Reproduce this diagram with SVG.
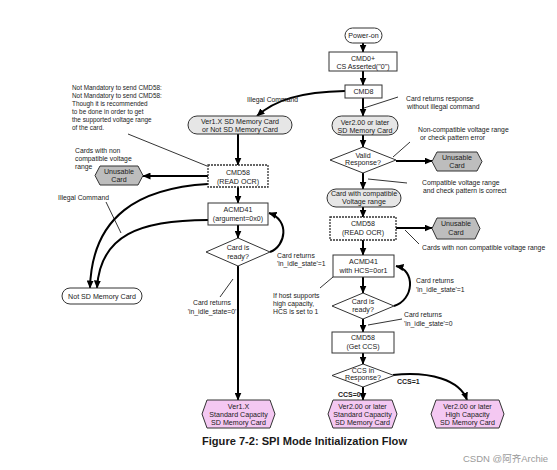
<svg xmlns="http://www.w3.org/2000/svg" width="557" height="470" viewBox="0 0 557 470">
<defs>
<marker id="ah" markerWidth="8" markerHeight="7" refX="7.5" refY="3.5" orient="auto" markerUnits="userSpaceOnUse"><path d="M0,0 L8,3.5 L0,7 z" fill="#000"/></marker>
<style>
text{font-family:"Liberation Sans",Arial,sans-serif;fill:#1a1a1a}
.n{font-size:7.1px;text-anchor:middle}
.a{font-size:6.8px}
.s{font-size:6.4px}
.box{fill:#fff;stroke:#333;stroke-width:1}
.dash{fill:#fff;stroke:#333;stroke-width:1.3;stroke-dasharray:2 1}
.pill{fill:#e6e6e6;stroke:#333;stroke-width:1}
.pillw{fill:#fff;stroke:#333;stroke-width:1}
.gray{fill:#bdbdbd;stroke:#333;stroke-width:1}
.pink{fill:#f4c8f2;stroke:#333;stroke-width:1}
.flow{fill:none;stroke:#000;stroke-width:2;marker-end:url(#ah)}
.lead{fill:none;stroke:#000;stroke-width:0.8}
</style>
</defs>
<rect width="557" height="470" fill="#fff"/>

<g id="connectors">
<path class="flow" d="M363,43 V52"/>
<path class="flow" d="M363,71 V85"/>
<path class="flow" d="M363,98 V116"/>
<path class="flow" d="M363,135 V147"/>
<path class="flow" d="M363,173 V189"/>
<path class="flow" d="M363,207 V217"/>
<path class="flow" d="M363,240 V255"/>
<path class="flow" d="M363,277 V293"/>
<path class="flow" d="M363,319 V332"/>
<path class="flow" d="M363,353 V364"/>
<path class="flow" d="M363,387 V400"/>
<path class="flow" d="M396,161 H432"/>
<path class="flow" d="M396,228 H432"/>
<path class="flow" d="M394,306 C414,300 416,270 396,266"/>
<path class="flow" d="M393,375 C430,371 460,380 467,400"/>
<path class="flow" d="M345,91 C300,92 275,100 257,116"/>
<path class="flow" d="M238,134 V165"/>
<path class="flow" d="M238,187 V203"/>
<path class="flow" d="M238,225 V238"/>
<path class="flow" d="M238,266 V400"/>
<path class="flow" d="M208,176 H143"/>
<path class="flow" d="M270,252 C286,246 290,220 269,213"/>
<path class="flow" d="M208,184 C140,188 92,215 90,288"/>
<path class="flow" d="M208,220 C140,220 100,235 97,288"/>
<path class="lead" d="M398,97 L364,108"/>
<path class="lead" d="M410,142 L393,157"/>
<path class="lead" d="M407,183 L368,179"/>
<path class="lead" d="M419,244 L405,230"/>
<path class="lead" d="M320,288 L333,277"/>
<path class="lead" d="M402,319 L368,325"/>
<path class="lead" d="M128,134 L207,166"/>
<path class="lead" d="M106,202 L121,233"/>
<path class="lead" d="M233,279 L220,297"/>
</g>

<g id="power-on"><rect class="pillw" x="345" y="28" width="37" height="15" rx="7.5"/><text class="n" x="363.5" y="37.5">Power-on</text></g>
<g id="cmd0"><rect class="box" x="329" y="52" width="68" height="19"/><text class="n" x="363" y="60.5">CMD0+</text><text class="n" x="363" y="68.5">CS Asserted("0")</text></g>
<g id="cmd8"><rect class="box" x="345" y="85" width="37" height="13"/><text class="n" x="363.5" y="94">CMD8</text></g>
<g id="ver1x"><rect class="pill" x="188" y="116" width="104" height="18" rx="9"/><text class="n" x="240" y="124">Ver1.X SD Memory Card</text><text class="n" x="240" y="131.5">or Not SD Memory Card</text></g>
<g id="ver2"><rect class="pill" x="332" y="116" width="66" height="19" rx="9.5"/><text class="n" x="365" y="124.5">Ver2.00 or later</text><text class="n" x="365" y="132.5">SD Memory Card</text></g>
<g id="valid"><polygon class="box" points="363,147 396,160 363,173 330,160"/><text class="n" x="363" y="157.5">Valid</text><text class="n" x="363" y="165">Response?</text></g>
<g id="unusable1"><polygon class="gray" points="437,152 477,152 482,161.5 477,171 437,171 432,161.5"/><text class="n" x="457" y="159.5">Unusable</text><text class="n" x="457" y="168">Card</text></g>
<g id="compatible"><rect class="pill" x="327" y="189" width="74" height="18" rx="9"/><text class="n" x="364" y="196">Card with compatible</text><text class="n" x="364" y="204">Voltage range</text></g>
<g id="cmd58r"><rect class="dash" x="330" y="217" width="66" height="23"/><text class="n" x="363" y="225.5">CMD58</text><text class="n" x="363" y="235">(READ OCR)</text></g>
<g id="unusable2"><polygon class="gray" points="437,218 475,218 480,228.5 475,239 437,239 432,228.5"/><text class="n" x="456" y="226">Unusable</text><text class="n" x="456" y="235">Card</text></g>
<g id="acmd41r"><rect class="box" x="333" y="255" width="61" height="22"/><text class="n" x="363.5" y="263.5">ACMD41</text><text class="n" x="363.5" y="272.5">with HCS=0or1</text></g>
<g id="readyr"><polygon class="box" points="363,293 394,306 363,319 332,306"/><text class="n" x="363" y="304">Card is</text><text class="n" x="363" y="312">ready?</text></g>
<g id="cmd58ccs"><rect class="box" x="332" y="332" width="62" height="21"/><text class="n" x="363" y="340">CMD58</text><text class="n" x="363" y="349">(Get CCS)</text></g>
<g id="ccs"><polygon class="box" points="363,364 394,375.5 363,387 332,375.5"/><text class="n" x="363" y="373">CCS in</text><text class="n" x="363" y="380">Response?</text></g>
<g id="v2sc"><polygon class="pink" points="333,400 392,400 397,414 392,428 333,428 328,414"/><text class="n" x="362.5" y="408.5">Ver2.00 or later</text><text class="n" x="362.5" y="416.5">Standard Capacity</text><text class="n" x="362.5" y="424.5">SD Memory Card</text></g>
<g id="v2hc"><polygon class="pink" points="436,400 499,400 504,414 499,428 436,428 431,414"/><text class="n" x="467.5" y="408.5">Ver2.00 or later</text><text class="n" x="467.5" y="416.5">High Capacity</text><text class="n" x="467.5" y="424.5">SD Memory Card</text></g>
<g id="v1sc"><polygon class="pink" points="207,400 270,400 275,414 270,428 207,428 202,414"/><text class="n" x="238.5" y="408.5">Ver1.X</text><text class="n" x="238.5" y="416.5">Standard Capacity</text><text class="n" x="238.5" y="424.5">SD Memory Card</text></g>
<g id="cmd58l"><rect class="dash" x="208" y="165" width="60" height="22"/><text class="n" x="238" y="174.5">CMD58</text><text class="n" x="238" y="183.5">(READ OCR)</text></g>
<g id="unusablel"><polygon class="gray" points="100,166 138,166 143,175.5 138,185 100,185 95,175.5"/><text class="n" x="119" y="173.5">Unusable</text><text class="n" x="119" y="182">Card</text></g>
<g id="acmd41l"><rect class="box" x="208" y="203" width="60" height="22"/><text class="n" x="238" y="211.5">ACMD41</text><text class="n" x="238" y="221">(argument=0x0)</text></g>
<g id="readyl"><polygon class="box" points="238,238 270,252 238,266 206,252"/><text class="n" x="238" y="249.5">Card is</text><text class="n" x="238" y="259">ready?</text></g>
<g id="notsd"><rect class="pillw" x="62" y="288" width="80" height="16" rx="8"/><text class="n" x="102" y="298.5">Not SD Memory Card</text></g>

<g id="labels">
<text class="a" x="247" y="102">Illegal Command</text>
<text class="a" x="406" y="101">Card returns response</text>
<text class="a" x="407" y="109">without illegal command</text>
<text class="a" x="418" y="132">Non-compatible voltage range</text>
<text class="a" x="420" y="140">or check pattern error</text>
<text class="a" x="422" y="185">Compatible voltage range</text>
<text class="a" x="423" y="193">and check pattern is correct</text>
<text class="a" x="422" y="250">Cards with non compatible voltage range</text>
<text class="a" x="416" y="283">Card returns</text>
<text class="a" x="416" y="292">'in_idle_state'=1</text>
<text class="a" x="273" y="298">If host supports</text>
<text class="a" x="273" y="306">high capacity,</text>
<text class="a" x="273" y="314">HCS is set to 1</text>
<text class="a" x="404" y="317">Card returns</text>
<text class="a" x="404" y="326">'in_idle_state'=0</text>
<text x="397" y="384" style="font-size:7px;font-weight:bold">CCS=1</text>
<text x="338" y="397" style="font-size:7px;font-weight:bold">CCS=0</text>
<text class="s" x="72" y="90">Not Mandatory to send CMD58:</text>
<text class="s" x="72" y="98">Not Mandatory to send CMD58:</text>
<text class="s" x="72" y="106">Though it is recommended</text>
<text class="s" x="72" y="114">to be done in order to get</text>
<text class="s" x="72" y="122">the supported voltage range</text>
<text class="s" x="72" y="130">of the card.</text>
<text class="a" x="75" y="153">Cards with non</text>
<text class="a" x="75" y="161">compatible voltage</text>
<text class="a" x="75" y="169">range</text>
<text class="a" x="58" y="200">Illegal Command</text>
<text class="a" x="277" y="258">Card returns</text>
<text class="a" x="277" y="266">'in_idle_state'=1</text>
<text class="a" x="212" y="305" text-anchor="middle">Card returns</text>
<text class="a" x="212" y="314" text-anchor="middle">'in_idle_state=0'</text>
<text x="202" y="445" style="font-size:10.5px;font-weight:bold" textLength="205" lengthAdjust="spacingAndGlyphs">Figure 7-2: SPI Mode Initialization Flow</text>
<text x="463" y="462" style="font-size:9.5px;fill:#9a9a9a;font-family:'Liberation Sans','Noto Sans CJK SC',sans-serif">CSDN @阿齐Archie</text>
</g>
</svg>
